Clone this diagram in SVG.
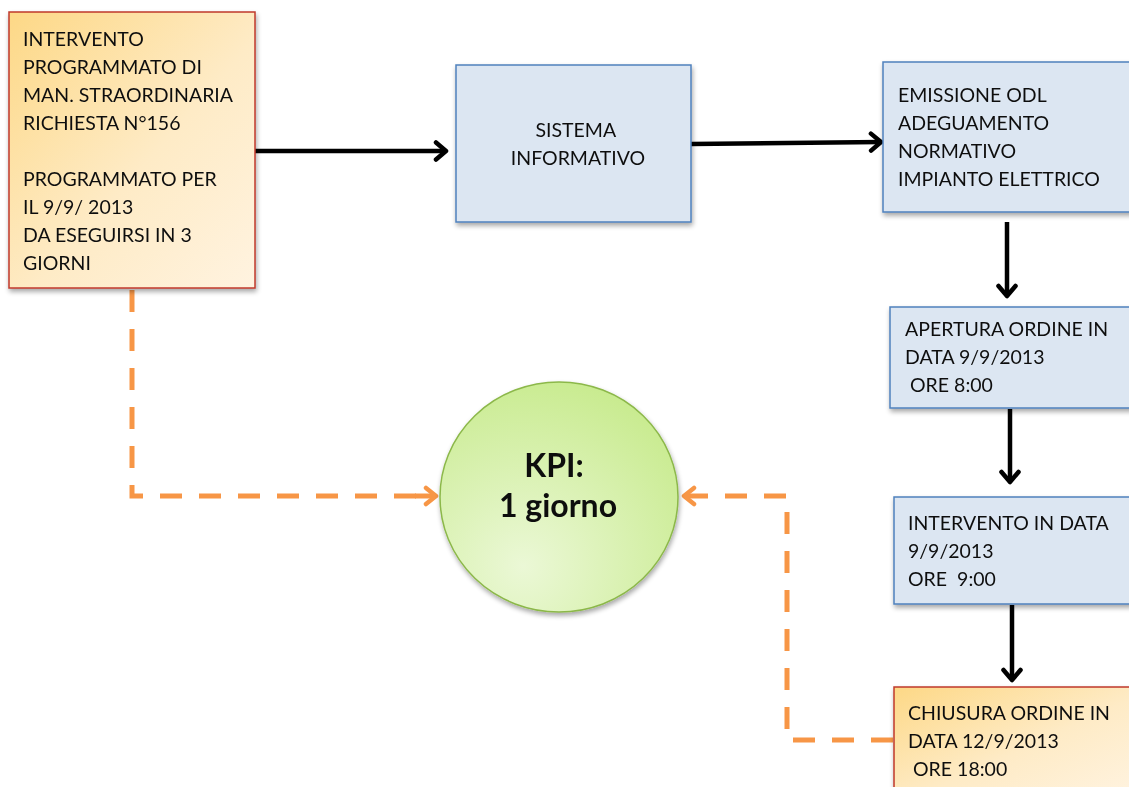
<svg xmlns="http://www.w3.org/2000/svg" width="1129" height="787" viewBox="0 0 1129 787">
  <defs>
    <linearGradient id="warm" x1="0" y1="0" x2="1" y2="1">
      <stop offset="0" stop-color="#fdd886"/>
      <stop offset="0.55" stop-color="#feebc6"/>
      <stop offset="1" stop-color="#fff3e0"/>
    </linearGradient>
    <radialGradient id="lime" cx="0.35" cy="0.8" r="0.9">
      <stop offset="0" stop-color="#ebf8d6"/>
      <stop offset="1" stop-color="#c6ea8a"/>
    </radialGradient>
    <filter id="shadow" x="-10%" y="-10%" width="125%" height="125%">
      <feGaussianBlur in="SourceAlpha" stdDeviation="2.5"/>
      <feOffset dx="1" dy="3" result="b"/>
      <feComponentTransfer><feFuncA type="linear" slope="0.35"/></feComponentTransfer>
      <feMerge><feMergeNode/><feMergeNode in="SourceGraphic"/></feMerge>
    </filter>
    <marker id="chev" viewBox="0 0 16 22" refX="13" refY="11" markerWidth="16" markerHeight="22" markerUnits="userSpaceOnUse" orient="auto">
      <path d="M3 2.5 L13 11 L3 19.5" fill="none" stroke="#000" stroke-width="4.5" stroke-linecap="round" stroke-linejoin="round"/>
    </marker>
    <marker id="chevO" viewBox="0 0 16 22" refX="13" refY="11" markerWidth="16" markerHeight="22" markerUnits="userSpaceOnUse" orient="auto">
      <path d="M3 3 L13 11 L3 19" fill="none" stroke="#f79646" stroke-width="4.5" stroke-linecap="round" stroke-linejoin="round"/>
    </marker>
  </defs>
  <style>
    .blue { fill: #dce6f2; stroke: #4f81bd; stroke-width: 1.5; }
    .warm { fill: url(#warm); stroke: #c0392b; stroke-width: 1.5; }
    .t { font-family: Lato, "Open Sans", "Liberation Sans", sans-serif; font-size: 19.5px; fill: #111; }
    .flow { fill: none; stroke: #000; stroke-width: 4.5; marker-end: url(#chev); }
    .dash { fill: none; stroke: #f79646; stroke-width: 5; stroke-dasharray: 22 17; }
  </style>
  <rect width="1129" height="787" fill="#fff"/>

  <g id="connectors">
    <path class="flow" d="M255 151 H446"/>
    <path class="flow" d="M691 144 L881 142"/>
    <path class="flow" d="M1007 222 V296"/>
    <path class="flow" d="M1010 409 V482"/>
    <path class="flow" d="M1012 605 V680"/>
    <path class="dash" d="M132 290 V496 H420"/>
    <path class="dash" d="M893 740 H787 V496 H700"/>
    <path d="M415 496 H436" fill="none" stroke="#f79646" stroke-width="5" marker-end="url(#chevO)"/>
    <path d="M700 496 H684" fill="none" stroke="#f79646" stroke-width="5" marker-end="url(#chevO)"/>
  </g>

  <g id="node-richiesta" filter="url(#shadow)">
    <rect class="warm" x="9" y="12" width="246" height="276"/>
    <text class="t">
      <tspan x="23" y="46">INTERVENTO</tspan>
      <tspan x="23" y="74">PROGRAMMATO DI</tspan>
      <tspan x="23" y="102">MAN. STRAORDINARIA</tspan>
      <tspan x="23" y="130">RICHIESTA N°156</tspan>
      <tspan x="23" y="186">PROGRAMMATO PER</tspan>
      <tspan x="23" y="214">IL 9/9/ 2013</tspan>
      <tspan x="23" y="242">DA ESEGUIRSI IN 3</tspan>
      <tspan x="23" y="270">GIORNI</tspan>
    </text>
  </g>

  <g id="node-sistema" filter="url(#shadow)">
    <rect class="blue" x="456" y="65" width="235" height="157"/>
    <text class="t" text-anchor="middle">
      <tspan x="578" y="137">SISTEMA</tspan>
      <tspan x="578" y="165">INFORMATIVO</tspan>
    </text>
  </g>

  <g id="node-emissione" filter="url(#shadow)">
    <rect class="blue" x="883" y="62" width="250" height="150"/>
    <text class="t">
      <tspan x="898" y="102">EMISSIONE ODL</tspan>
      <tspan x="898" y="130">ADEGUAMENTO</tspan>
      <tspan x="898" y="158">NORMATIVO</tspan>
      <tspan x="898" y="186">IMPIANTO ELETTRICO</tspan>
    </text>
  </g>

  <g id="node-apertura" filter="url(#shadow)">
    <rect class="blue" x="890" y="307" width="243" height="101"/>
    <text class="t">
      <tspan x="905" y="336">APERTURA ORDINE IN</tspan>
      <tspan x="905" y="364">DATA 9/9/2013</tspan>
      <tspan x="905" y="392">&#160;ORE 8:00</tspan>
    </text>
  </g>

  <g id="node-intervento" filter="url(#shadow)">
    <rect class="blue" x="894" y="497" width="239" height="107"/>
    <text class="t">
      <tspan x="908" y="530">INTERVENTO IN DATA</tspan>
      <tspan x="908" y="558">9/9/2013</tspan>
      <tspan x="908" y="586">ORE&#160; 9:00</tspan>
    </text>
  </g>

  <g id="node-chiusura" filter="url(#shadow)">
    <rect class="warm" x="894" y="687" width="239" height="110"/>
    <text class="t">
      <tspan x="908" y="720">CHIUSURA ORDINE IN</tspan>
      <tspan x="908" y="748">DATA 12/9/2013</tspan>
      <tspan x="908" y="776">&#160;ORE 18:00</tspan>
    </text>
  </g>

  <g id="node-kpi" filter="url(#shadow)">
    <ellipse cx="559" cy="497" rx="119" ry="115" fill="url(#lime)" stroke="#8cb84a" stroke-width="1.5"/>
    <text font-family="Lato, 'Open Sans', 'Liberation Sans', sans-serif" font-size="32" font-weight="bold" fill="#111" text-anchor="middle">
      <tspan x="558" y="477">KPI:</tspan>
      <tspan x="558" y="517">1 giorno</tspan>
    </text>
  </g>
</svg>
